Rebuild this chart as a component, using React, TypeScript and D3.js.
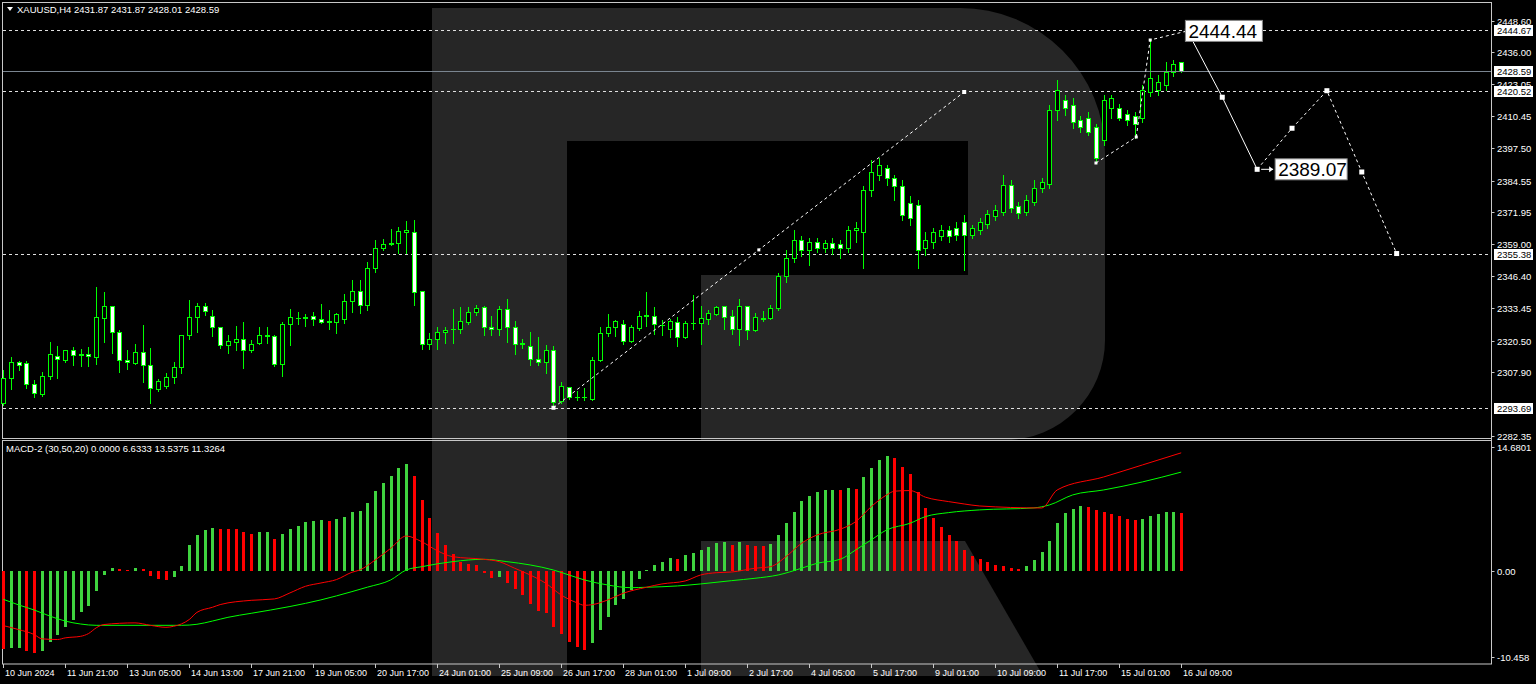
import React from "react";
import * as d3 from "d3";

const W = 1536;
const H = 684;

// ---------- DATA ----------
const opens = [
  2295.5, 2305.7, 2312.0, 2311.5, 2303.1, 2299.2, 2306.5, 2314.5, 2312.8, 2316.9,
  2315.1, 2315.2, 2314.1, 2329.7, 2334.4, 2324.0, 2312.8, 2311.7, 2315.9, 2310.7,
  2301.3, 2302.5, 2306.1, 2309.9, 2322.7, 2330.1, 2334.4, 2330.5, 2326.1, 2318.9,
  2319.9, 2321.2, 2316.8, 2319.5, 2322.7, 2322.4, 2311.1, 2327.1, 2329.6, 2330.1,
  2330.4, 2329.3, 2328.5, 2328.1, 2329.3, 2336.3, 2340.3, 2334.8, 2349.6, 2357.5,
  2359.2, 2359.5, 2363.9, 2363.9, 2340.4, 2319.2, 2321.1, 2324.0, 2325.1, 2325.1,
  2328.1, 2332.1, 2334.1, 2326.1, 2325.1, 2333.2, 2325.9, 2319.5, 2318.4, 2313.1,
  2312.1, 2316.7, 2296.3, 2302.1, 2298.0, 2297.9, 2297.2, 2312.7, 2323.5, 2325.9,
  2327.1, 2320.4, 2325.7, 2330.5, 2330.5, 2326.8, 2325.1, 2328.1, 2321.9, 2327.5,
  2327.5, 2329.2, 2331.1, 2334.4, 2330.3, 2325.1, 2334.4, 2324.8, 2329.3, 2329.5,
  2333.5, 2346.4, 2353.6, 2360.8, 2356.8, 2360.0, 2357.6, 2359.6, 2359.2, 2357.6,
  2364.8, 2364.0, 2380.8, 2386.8, 2389.6, 2385.6, 2382.4, 2375.6, 2374.8, 2357.6,
  2360.0, 2362.4, 2364.8, 2365.6, 2368.0, 2362.8, 2364.8, 2367.2, 2370.4, 2372.0,
  2382.8, 2374.4, 2372.0, 2376.0, 2381.6, 2383.2, 2412.8, 2416.8, 2414.8, 2408.8,
  2409.6, 2406.0, 2400.8, 2413.6, 2413.6, 2411.2, 2410.4, 2409.6, 2420.0, 2420.8,
  2422.8, 2428.0, 2431.87,
];
const highs = [
  2308.8, 2313.9, 2312.5, 2312.4, 2304.8, 2308.1, 2320.1, 2318.4, 2316.8, 2318.0,
  2317.2, 2318.0, 2341.9, 2339.9, 2334.4, 2324.8, 2316.7, 2319.1, 2326.7, 2317.5,
  2305.2, 2307.5, 2312.0, 2322.7, 2336.8, 2335.5, 2335.5, 2332.8, 2326.1, 2322.8,
  2326.4, 2328.0, 2320.8, 2326.0, 2326.0, 2322.8, 2327.9, 2333.2, 2331.9, 2331.1,
  2332.1, 2335.2, 2332.8, 2331.7, 2339.2, 2344.8, 2344.8, 2352.0, 2360.8, 2361.1,
  2365.1, 2366.1, 2368.5, 2368.8, 2340.4, 2323.5, 2326.1, 2326.1, 2333.1, 2333.9,
  2333.9, 2334.8, 2334.4, 2330.3, 2334.4, 2337.3, 2328.4, 2321.1, 2324.0, 2322.1,
  2318.7, 2318.4, 2304.1, 2302.1, 2300.3, 2301.5, 2314.1, 2326.0, 2331.1, 2328.7,
  2328.7, 2326.9, 2332.4, 2340.0, 2334.1, 2328.8, 2329.1, 2330.1, 2328.5, 2338.8,
  2334.4, 2332.8, 2334.4, 2334.4, 2332.8, 2337.2, 2334.4, 2331.5, 2332.5, 2334.8,
  2347.5, 2356.8, 2364.8, 2362.4, 2361.6, 2361.6, 2360.8, 2361.6, 2360.8, 2366.4,
  2368.0, 2382.4, 2392.8, 2393.6, 2390.8, 2386.8, 2384.8, 2378.4, 2376.8, 2364.0,
  2365.6, 2366.8, 2366.4, 2368.0, 2370.8, 2366.8, 2369.6, 2372.8, 2374.8, 2386.8,
  2384.8, 2376.0, 2378.8, 2384.8, 2385.6, 2414.8, 2424.8, 2418.8, 2417.6, 2410.4,
  2412.0, 2407.2, 2418.8, 2418.8, 2415.2, 2412.8, 2412.0, 2422.8, 2440.8, 2426.8,
  2432.0, 2432.8, 2431.87,
];
const lows = [
  2294.8, 2301.3, 2308.8, 2301.7, 2297.9, 2298.5, 2305.2, 2305.6, 2312.1, 2310.9,
  2310.5, 2310.5, 2311.2, 2320.0, 2315.7, 2307.9, 2309.1, 2311.1, 2304.1, 2295.6,
  2300.4, 2301.7, 2303.7, 2307.5, 2321.1, 2324.0, 2330.8, 2322.5, 2317.7, 2315.5,
  2316.8, 2309.7, 2316.0, 2319.2, 2319.5, 2310.5, 2306.5, 2318.8, 2327.2, 2326.5,
  2326.8, 2327.7, 2325.2, 2323.7, 2327.7, 2332.1, 2331.5, 2332.8, 2348.0, 2356.8,
  2358.8, 2355.5, 2355.5, 2334.7, 2317.1, 2317.1, 2317.1, 2319.5, 2319.5, 2323.5,
  2327.1, 2330.8, 2322.9, 2322.8, 2322.8, 2319.9, 2315.2, 2317.5, 2310.7, 2310.7,
  2307.5, 2293.7, 2295.5, 2297.1, 2296.8, 2296.8, 2296.8, 2312.4, 2322.4, 2322.4,
  2319.3, 2320.1, 2324.8, 2326.4, 2323.2, 2322.9, 2322.1, 2318.5, 2321.6, 2325.1,
  2319.1, 2327.1, 2330.8, 2325.1, 2323.2, 2318.8, 2321.1, 2324.5, 2328.5, 2329.1,
  2332.8, 2344.0, 2352.0, 2354.4, 2350.8, 2356.0, 2356.0, 2355.2, 2353.6, 2356.0,
  2360.0, 2349.6, 2378.4, 2384.8, 2382.8, 2376.8, 2368.8, 2366.8, 2349.6, 2354.8,
  2357.6, 2360.8, 2360.0, 2360.8, 2348.8, 2361.6, 2363.2, 2365.6, 2368.8, 2370.8,
  2372.0, 2369.6, 2370.8, 2374.8, 2380.0, 2381.6, 2408.8, 2410.8, 2405.6, 2404.0,
  2402.8, 2391.6, 2398.8, 2409.6, 2408.8, 2406.8, 2401.6, 2408.0, 2418.4, 2418.8,
  2420.8, 2426.4, 2428.01,
];
const closes = [
  2305.7, 2311.9, 2310.7, 2303.1, 2299.5, 2306.5, 2315.1, 2313.1, 2316.7, 2314.7,
  2314.7, 2314.3, 2330.1, 2334.4, 2324.1, 2312.7, 2311.9, 2315.9, 2310.7, 2301.5,
  2304.5, 2306.1, 2309.9, 2322.7, 2330.1, 2334.5, 2332.4, 2326.1, 2318.8, 2320.3,
  2321.3, 2316.9, 2319.1, 2322.8, 2322.3, 2311.1, 2327.1, 2329.9, 2329.7, 2329.5,
  2329.2, 2328.1, 2328.1, 2331.1, 2336.3, 2340.3, 2334.7, 2349.6, 2357.6, 2359.2,
  2359.5, 2364.5, 2364.7, 2340.1, 2319.2, 2321.1, 2323.9, 2324.9, 2325.2, 2328.3,
  2332.1, 2333.5, 2325.9, 2325.1, 2333.2, 2325.9, 2319.2, 2319.3, 2313.1, 2312.1,
  2316.7, 2296.1, 2302.3, 2298.0, 2297.9, 2298.0, 2312.7, 2323.5, 2325.9, 2328.3,
  2320.4, 2325.9, 2330.5, 2330.6, 2327.2, 2326.9, 2328.4, 2322.1, 2327.5, 2327.6,
  2329.6, 2331.7, 2334.1, 2330.1, 2325.1, 2334.4, 2324.8, 2329.9, 2329.4, 2333.5,
  2346.4, 2353.6, 2360.8, 2356.8, 2360.0, 2357.6, 2359.6, 2357.6, 2357.6, 2364.8,
  2365.6, 2380.8, 2388.0, 2390.8, 2385.6, 2382.4, 2370.8, 2369.6, 2356.8, 2360.8,
  2364.0, 2364.8, 2362.4, 2362.8, 2362.8, 2365.6, 2368.0, 2371.2, 2372.8, 2382.8,
  2373.6, 2371.6, 2376.8, 2381.6, 2384.0, 2412.8, 2420.8, 2413.6, 2408.0, 2406.0,
  2404.0, 2393.6, 2416.8, 2417.6, 2409.6, 2408.8, 2407.2, 2420.8, 2425.6, 2424.0,
  2428.0, 2431.2, 2428.59,
];

const macdHist = [
  -8.96, -8.9, -8.88, -9.18, -9.49, -9.18, -8.19, -7.42, -6.43, -5.63,
  -4.75, -4.09, -2.3, -0.54, 0.34, 0.19, 0.1, 0.34, 0.15, -0.65,
  -0.96, -1.0, -0.72, 0.5, 3.0, 4.1, 4.7, 4.9, 4.8, 4.77,
  4.75, 4.48, 4.21, 4.48, 4.5, 3.64, 4.21, 4.79, 5.1, 5.59,
  5.67, 5.79, 5.67, 5.9, 6.2, 6.77, 6.85, 7.77, 9.11, 10.07,
  10.87, 11.79, 12.25, 10.87, 8.12, 6.01, 4.36, 2.95, 1.88, 1.04,
  0.77, 0.65, -0.23, -0.88, -0.77, -1.38, -2.14, -2.79, -3.82, -4.59,
  -4.82, -6.43, -7.27, -8.15, -8.8, -9.1, -8.34, -6.81, -5.35, -3.94,
  -3.21, -2.22, -0.99, 0.08, 0.65, 1.0, 1.42, 1.4, 1.77, 2.0,
  2.34, 2.76, 3.18, 3.33, 2.95, 3.3, 2.95, 2.9, 2.84, 3.07,
  4.1, 5.44, 6.74, 8.0, 8.54, 9.0, 9.3, 9.31, 9.29, 9.53,
  9.41, 10.76, 11.75, 12.74, 13.17, 12.98, 11.87, 11.1, 9.0, 7.2,
  6.09, 4.98, 4.1, 3.44, 2.38, 1.69, 1.31, 1.0, 0.7, 0.5,
  0.35, 0.2, 0.6, 1.2, 2.2, 3.4, 5.5, 6.6, 7.1, 7.4,
  7.3, 7.0, 6.8, 6.5, 6.3, 6.0, 5.8, 6.0, 6.3, 6.5,
  6.7, 6.8, 6.63,
];

const greenLineBars = [0, 2, 4, 6, 8, 10, 12, 19, 23, 25, 27, 29, 32, 37, 41, 45, 47, 50, 52, 54, 58, 62, 65, 68, 71, 73, 75, 78, 81, 83, 87, 90, 94, 97, 100, 103, 105, 108, 110, 112, 114, 117, 119, 122, 126, 133, 135, 138, 142, 147, 152];
const greenLineVals = [-3.27, -3.92, -4.5, -5.19, -5.77, -6.11, -6.26, -6.26, -6.26, -6.14, -5.77, -5.34, -4.88, -4.1, -3.34, -2.39, -1.88, -1.05, 0.09, 0.47, 1.05, 1.32, 1.05, 0.67, 0.09, -0.48, -1.05, -1.63, -1.94, -1.89, -1.74, -1.51, -1.13, -0.86, -0.48, 0.29, 0.86, 1.32, 2.39, 3.54, 4.69, 5.45, 6.22, 6.68, 6.99, 7.22, 7.56, 8.71, 9.28, 10.2, 11.33];

const redLineBars = [0, 2, 4, 5, 7, 8, 10, 11, 12, 13, 17, 19, 21, 22, 23, 24, 25, 27, 28, 32, 35, 37, 39, 41, 43, 45, 46, 48, 50, 52, 54, 56, 58, 62, 64, 66, 68, 70, 72, 74, 75, 76, 78, 80, 83, 85, 88, 90, 92, 94, 97, 99, 101, 103, 105, 108, 110, 112, 114, 115, 117, 119, 122, 124, 126, 134, 136, 142, 147, 152];
const redLineVals = [-6.29, -6.75, -7.32, -7.81, -7.89, -7.7, -7.52, -7.21, -6.55, -6.17, -5.98, -6.26, -6.49, -6.37, -6.1, -5.6, -4.77, -4.19, -3.88, -3.39, -3.23, -2.54, -1.78, -1.4, -1.01, -0.17, 0.09, 1.24, 2.58, 3.99, 3.34, 2.31, 1.62, 1.32, 1.05, 0.29, -0.48, -1.43, -2.78, -3.66, -3.96, -3.89, -3.35, -2.58, -1.89, -1.51, -1.17, -0.48, -0.22, -0.14, 0.29, 0.47, 1.62, 3.15, 4.11, 4.77, 5.64, 7.36, 8.71, 9.14, 9.21, 8.45, 7.94, 7.67, 7.44, 7.21, 9.28, 10.77, 12.15, 13.54];

const priceTicks = [2448.6, 2436.0, 2423.05, 2410.45, 2397.5, 2384.55, 2371.95, 2359.0, 2346.4, 2333.45, 2320.5, 2307.9, 2282.35];
const levelPrices = [2444.67, 2420.52, 2355.38, 2293.69];
const bidPrice = 2428.59;

const timeLabelBars = [0, 8, 16, 24, 32, 40, 48, 56, 64, 72, 80, 88, 96, 104, 112, 120, 128, 136, 144, 152];
const timeLabels = [
  "10 Jun 2024", "11 Jun 21:00", "13 Jun 05:00", "14 Jun 13:00", "17 Jun 21:00",
  "19 Jun 05:00", "20 Jun 17:00", "24 Jun 01:00", "25 Jun 09:00", "26 Jun 17:00",
  "28 Jun 01:00", "1 Jul 09:00", "2 Jul 17:00", "4 Jul 05:00", "5 Jul 17:00",
  "9 Jul 01:00", "10 Jul 09:00", "11 Jul 17:00", "15 Jul 01:00", "16 Jul 09:00",
];

const macdTicks = [14.6801, 0, -10.458];
const macdTickLabels = ["14.6801", "0.00", "-10.458"];

// annotations: trend line (bar, price)
const trendBars = [71, 124];
const trendPrices = [2293.69, 2420.0];
// impulse wave to the recent high
const waveBars = [141, 146.2, 148, 152.8];
const wavePrices = [2391.6, 2402.0, 2440.8, 2444.44];
// forecast path
const fcBars = [152.8, 157.3, 161.8, 166.3, 170.8, 175.3, 179.8];
const fcPrices = [2444.44, 2417.9, 2389.07, 2405.5, 2420.52, 2388.0, 2355.38];

const FONT = "Tahoma, 'Liberation Sans', Arial, sans-serif";
const GREEN = "#00ff00";
const HIST_GREEN = "#3fd43f";
const RED = "#ff0000";
const WM = "#262626";
const AXIS_X = 1491.5;
const FRAME = "#c8c8c8";

export default function App() {
  const x = d3.scaleLinear().domain([0, 152]).range([3.2, 1181.2]);
  const y = d3.scaleLinear().domain([2282.35, 2448.6]).range([436.1, 20.5]);
  const ym = d3.scaleLinear().domain([-10.458, 14.6801]).range([661.9, 442.9]);

  const px = (i: number) => Math.round(x(i));
  const py = (p: number) => Math.round(y(p));

  const mkLine = (bars: number[], vals: number[]) =>
    d3
      .line<number>()
      .x((_, k) => x(bars[k]))
      .y((v) => ym(v))
      .curve(d3.curveMonotoneX)(vals) || "";

  const mkPricePath = (bars: number[], prices: number[]) =>
    d3
      .line<number>()
      .x((_, k) => x(bars[k]))
      .y((p) => y(p))(prices) || "";

  const zeroY = Math.round(ym(0));

  const fcSolid = mkPricePath(fcBars.slice(0, 3), fcPrices.slice(0, 3));
  const fcDash = mkPricePath(fcBars.slice(2), fcPrices.slice(2));

  const lbl1x = x(fcBars[0]) - 2;
  const lbl1y = y(fcPrices[0]);
  const lbl2x = x(fcBars[2]) + 18;
  const lbl2y = y(fcPrices[2]);

  // tick label that sits under a price box is clipped (as in the terminal)
  const boxed = [...levelPrices, bidPrice].map((p) => py(p));
  const hiddenTick = (t: number) => boxed.some((b) => Math.abs(b - py(t)) < 6);

  return (
    <svg
      width={W}
      height={H}
      viewBox={`0 0 ${W} ${H}`}
      style={{ position: "fixed", left: 0, top: 0, display: "block", background: "#000" }}
    >
      <defs>
        <clipPath id="tickclip">
          <rect x={AXIS_X} y={0} width={50} height={py(2420.52) - 5} />
        </clipPath>
      </defs>
      <rect x={0} y={0} width={W} height={H} fill="#000" />

      {/* watermark logo */}
      <path
        d="M432,8 H960 A145,145 0 0 1 1105,153 V340 A100,100 0 0 1 1005,440 H701 V275 H968 V141 H567 V676 H432 Z"
        fill={WM}
      />
      <path d="M701,541 H965 L1043,676 H701 Z" fill={WM} />

      {/* frames */}
      <rect x={2.5} y={2.5} width={AXIS_X - 2.5} height={436} fill="none" stroke={FRAME} strokeWidth={1} />
      <rect x={2.5} y={440.5} width={AXIS_X - 2.5} height={223.5} fill="none" stroke={FRAME} strokeWidth={1} />

      {/* horizontal levels */}
      {levelPrices.map((p, i) => (
        <line
          key={"lv" + i}
          x1={3}
          x2={AXIS_X}
          y1={py(p) + 0.5}
          y2={py(p) + 0.5}
          stroke="#e0e0e0"
          strokeWidth={1}
          strokeDasharray="3,3"
        />
      ))}

      {/* candles */}
      {opens.map((o, i) => {
        const c = closes[i];
        const bull = c > o;
        const cx = px(i);
        const yo = py(o);
        const yc = py(c);
        const top = Math.min(yo, yc);
        const bot = Math.max(yo, yc);
        return (
          <g key={"c" + i}>
            <line x1={cx + 0.5} x2={cx + 0.5} y1={py(highs[i])} y2={py(lows[i]) + 1} stroke={GREEN} strokeWidth={1} />
            {bot - top >= 1 ? (
              <rect
                x={cx - 1.5}
                y={top + 0.5}
                width={4}
                height={bot - top}
                fill={bull ? "#000" : "#fff"}
                stroke={GREEN}
                strokeWidth={1}
              />
            ) : (
              <line x1={cx - 2} x2={cx + 3} y1={top + 0.5} y2={top + 0.5} stroke={GREEN} strokeWidth={1} />
            )}
          </g>
        );
      })}

      {/* bid line */}
      <line x1={3} x2={AXIS_X} y1={py(bidPrice) + 0.5} y2={py(bidPrice) + 0.5} stroke="#7a8590" strokeWidth={1} />

      {/* trend line */}
      <path d={mkPricePath(trendBars, trendPrices)} fill="none" stroke="#ffffff" strokeWidth={1} strokeDasharray="3,3" />
      {trendBars.map((b, i) => (
        <rect key={"tm" + i} x={x(b) - 2} y={y(trendPrices[i]) - 2} width={4} height={4} fill="#fff" />
      ))}
      <rect x={x((trendBars[0] + trendBars[1]) / 2) - 1.5} y={y((trendPrices[0] + trendPrices[1]) / 2) - 1.5} width={3} height={3} fill="#fff" />

      {/* wave to high */}
      <path d={mkPricePath(waveBars, wavePrices)} fill="none" stroke="#ffffff" strokeWidth={1} strokeDasharray="3,3" />
      {waveBars.slice(0, 3).map((b, i) => (
        <rect key={"wm" + i} x={x(b) - 1.5} y={y(wavePrices[i]) - 1.5} width={3} height={3} fill="#fff" />
      ))}

      {/* forecast */}
      <path d={fcSolid} fill="none" stroke="#ffffff" strokeWidth={1} />
      <path d={fcDash} fill="none" stroke="#ffffff" strokeWidth={1} strokeDasharray="3,3" />
      {fcBars.map((b, i) => (
        <rect key={"fm" + i} x={x(b) - 2.5} y={y(fcPrices[i]) - 2.5} width={5} height={5} fill="#fff" />
      ))}
      <line x1={x(fcBars[2]) + 4} x2={lbl2x - 2} y1={lbl2y} y2={lbl2y} stroke="#fff" strokeWidth={1} />
      <path d={`M${lbl2x - 2},${lbl2y} l-4,-3 v6 z`} fill="#fff" />

      {/* forecast labels */}
      <rect x={lbl1x} y={lbl1y - 10.5} width={77} height={21} fill="#fff" stroke="#888" strokeWidth={1} />
      <text x={lbl1x + 3} y={lbl1y} dy="0.36em" fontFamily={FONT} fontSize={19} fill="#000">
        {fcPrices[0].toFixed(2)}
      </text>
      <rect x={lbl2x} y={lbl2y - 10.5} width={72} height={21} fill="#fff" stroke="#888" strokeWidth={1} />
      <text x={lbl2x + 3} y={lbl2y} dy="0.36em" fontFamily={FONT} fontSize={19} fill="#000">
        {fcPrices[2].toFixed(2)}
      </text>

      {/* MACD histogram */}
      {macdHist.map((v, i) => {
        const up = i > 0 && v > macdHist[i - 1];
        const yv = Math.round(ym(v));
        const top = Math.min(yv, zeroY);
        const h = Math.max(Math.abs(yv - zeroY), 1);
        return (
          <rect key={"h" + i} x={px(i) - 1} y={top} width={3} height={h} fill={up ? HIST_GREEN : RED} />
        );
      })}
      <path d={mkLine(greenLineBars, greenLineVals)} fill="none" stroke={GREEN} strokeWidth={1} />
      <path d={mkLine(redLineBars, redLineVals)} fill="none" stroke={RED} strokeWidth={1} />

      {/* right axis */}
      <line x1={AXIS_X} x2={AXIS_X} y1={2} y2={664} stroke={FRAME} strokeWidth={1} />
      {priceTicks.map((t, i) => (
        <g key={"pt" + i}>
          <line x1={AXIS_X} x2={AXIS_X + 3} y1={py(t) + 0.5} y2={py(t) + 0.5} stroke={FRAME} />
          <text
            x={AXIS_X + 5.5}
            y={py(t) + 0.5}
            dy="0.35em"
            fontFamily={FONT}
            fontSize={9.5}
            fill="#ffffff"
            clipPath={hiddenTick(t) ? "url(#tickclip)" : undefined}
          >
            {t.toFixed(2)}
          </text>
        </g>
      ))}
      {[...levelPrices, bidPrice].map((p, i) => (
        <g key={"pb" + i}>
          <rect x={AXIS_X + 2.5} y={py(p) - 5} width={39} height={11} fill="#ffffff" />
          <text x={AXIS_X + 5.5} y={py(p) + 0.5} dy="0.35em" fontFamily={FONT} fontSize={9.5} fill="#000">
            {p.toFixed(2)}
          </text>
        </g>
      ))}

      {/* MACD axis labels */}
      {macdTicks.map((t, i) => {
        const yy = Math.round(ym(t));
        const anchorY = i === 0 ? yy + 4 : i === 2 ? yy - 5 : yy;
        return (
          <g key={"mt" + i}>
            <line x1={AXIS_X} x2={AXIS_X + 3} y1={anchorY + 0.5} y2={anchorY + 0.5} stroke={FRAME} />
            <text x={AXIS_X + 5.5} y={anchorY + 0.5} dy="0.35em" fontFamily={FONT} fontSize={9.5} fill="#fff">
              {macdTickLabels[i]}
            </text>
          </g>
        );
      })}

      {/* time axis */}
      {timeLabelBars.map((b, i) => (
        <g key={"tl" + i}>
          <line x1={px(b) + 0.5} x2={px(b) + 0.5} y1={664} y2={668} stroke={FRAME} />
          <text x={px(b) + 2} y={676} fontFamily={FONT} fontSize={9} fill="#fff">
            {timeLabels[i]}
          </text>
        </g>
      ))}

      {/* headers */}
      <path d="M7,7 h6 l-3,4 z" fill="#fff" />
      <text x={17} y={12.5} fontFamily={FONT} fontSize={9.5} fill="#fff">
        XAUUSD,H4  2431.87 2431.87 2428.01 2428.59
      </text>
      <text x={6} y={452} fontFamily={FONT} fontSize={9.5} fill="#fff">
        MACD-2 (30,50,20) 0.0000 6.6333 13.5375 11.3264
      </text>
    </svg>
  );
}
